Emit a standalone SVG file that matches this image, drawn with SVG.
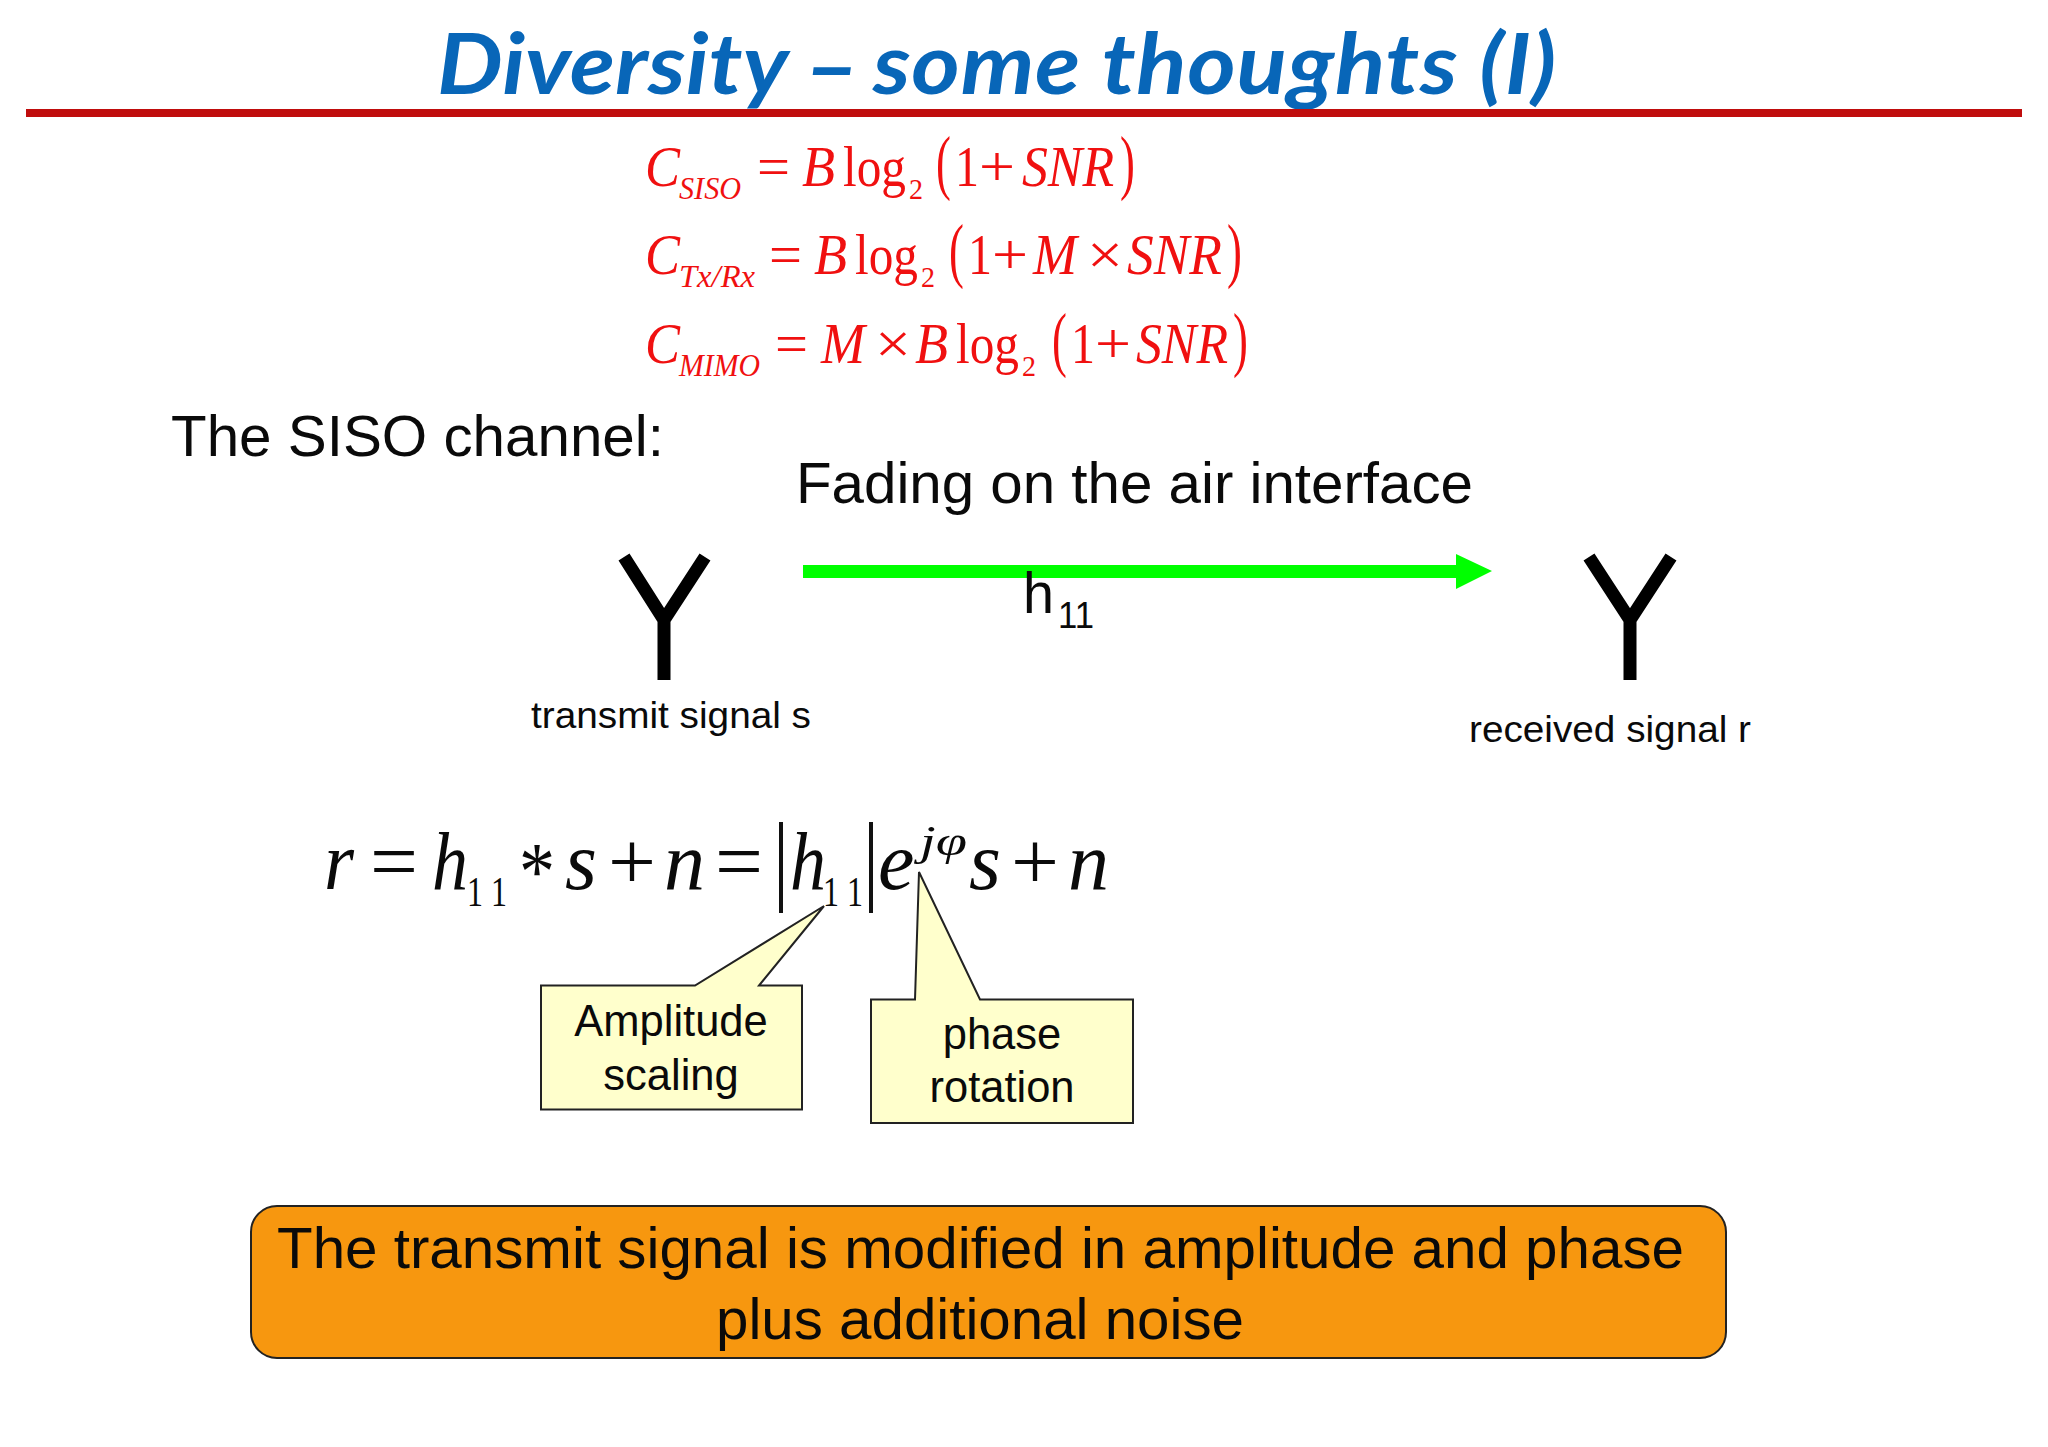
<svg xmlns="http://www.w3.org/2000/svg" width="2048" height="1447" viewBox="0 0 2048 1447">
<style>
text{font-family:"Liberation Sans",Arial,sans-serif;fill:#0a0a0a}
.t{font-family:"Lato","Liberation Sans",sans-serif;font-weight:700;font-style:italic;font-size:84px;fill:#0866b8}
.e text{font-family:"Liberation Serif","Times New Roman",serif;fill:#f01010}
.m text{font-family:"Liberation Serif","Times New Roman",serif;fill:#0a0a0a}
.i{font-style:italic}
.b{font-size:58px}
.s{font-size:31px}
.n{font-size:29px}
.p{font-size:72px}
.mb{font-size:82px}
.ms{font-size:43px}
.c{text-anchor:middle;font-size:43.500px}
.w{font-size:57px}
.call{fill:#ffffcc;stroke:#222;stroke-width:2}
.ant{fill:none;stroke:#000;stroke-width:13}
</style>
<rect width="2048" height="1447" fill="#fff"/>
<g id="title">
<text class="t" x="437" y="94" textLength="1120" lengthAdjust="spacingAndGlyphs"><tspan letter-spacing=".1">Diversity</tspan><tspan font-size="60"> </tspan><tspan font-size="90" dy="4">–</tspan><tspan font-size="50" dy="-4"> </tspan><tspan letter-spacing=".6">some thoughts (I)</tspan></text>
<rect x="26" y="109" width="1996" height="8" fill="#c00d0d"/>
</g>
<g id="capacity-formulas" class="e">
<text class="b i" x="645" y="186" textLength="35" lengthAdjust="spacingAndGlyphs">C</text>
<text class="s i" x="679" y="199" textLength="62" lengthAdjust="spacingAndGlyphs">SISO</text>
<text class="b" x="757" y="186" textLength="33" lengthAdjust="spacingAndGlyphs">=</text>
<text class="b i" x="802" y="186" textLength="33" lengthAdjust="spacingAndGlyphs">B</text>
<text class="b" x="843" y="186" textLength="63" lengthAdjust="spacingAndGlyphs">log</text>
<text class="n" x="909" y="199" textLength="14" lengthAdjust="spacingAndGlyphs">2</text>
<text class="p" transform="translate(936 186) scale(.62 1)">(</text>
<text class="b" x="955" y="186" textLength="24" lengthAdjust="spacingAndGlyphs">1</text>
<text class="b" x="979" y="186" textLength="36" lengthAdjust="spacingAndGlyphs">+</text>
<text class="b i" x="1022" y="186" textLength="92" lengthAdjust="spacingAndGlyphs">SNR</text>
<text class="p" transform="translate(1120 186) scale(.62 1)">)</text>

<text class="b i" x="645" y="274" textLength="35" lengthAdjust="spacingAndGlyphs">C</text>
<text class="s i" x="679" y="287" textLength="76" lengthAdjust="spacingAndGlyphs">Tx/Rx</text>
<text class="b" x="769" y="274" textLength="33" lengthAdjust="spacingAndGlyphs">=</text>
<text class="b i" x="814" y="274" textLength="33" lengthAdjust="spacingAndGlyphs">B</text>
<text class="b" x="855" y="274" textLength="63" lengthAdjust="spacingAndGlyphs">log</text>
<text class="n" x="921" y="287" textLength="14" lengthAdjust="spacingAndGlyphs">2</text>
<text class="p" transform="translate(949 274) scale(.62 1)">(</text>
<text class="b" x="968" y="274" textLength="24" lengthAdjust="spacingAndGlyphs">1</text>
<text class="b" x="992" y="274" textLength="36" lengthAdjust="spacingAndGlyphs">+</text>
<text class="b i" x="1033" y="274" textLength="44" lengthAdjust="spacingAndGlyphs">M</text>
<text class="b" x="1087" y="274" textLength="36" lengthAdjust="spacingAndGlyphs">×</text>
<text class="b i" x="1127" y="274" textLength="95" lengthAdjust="spacingAndGlyphs">SNR</text>
<text class="p" transform="translate(1227 274) scale(.62 1)">)</text>

<text class="b i" x="645" y="363" textLength="35" lengthAdjust="spacingAndGlyphs">C</text>
<text class="s i" x="679" y="376" textLength="81" lengthAdjust="spacingAndGlyphs">MIMO</text>
<text class="b" x="775" y="363" textLength="33" lengthAdjust="spacingAndGlyphs">=</text>
<text class="b i" x="821" y="363" textLength="44" lengthAdjust="spacingAndGlyphs">M</text>
<text class="b" x="875" y="363" textLength="36" lengthAdjust="spacingAndGlyphs">×</text>
<text class="b i" x="915" y="363" textLength="33" lengthAdjust="spacingAndGlyphs">B</text>
<text class="b" x="956" y="363" textLength="63" lengthAdjust="spacingAndGlyphs">log</text>
<text class="n" x="1022" y="376" textLength="14" lengthAdjust="spacingAndGlyphs">2</text>
<text class="p" transform="translate(1052 363) scale(.62 1)">(</text>
<text class="b" x="1071" y="363" textLength="24" lengthAdjust="spacingAndGlyphs">1</text>
<text class="b" x="1095" y="363" textLength="36" lengthAdjust="spacingAndGlyphs">+</text>
<text class="b i" x="1136" y="363" textLength="92" lengthAdjust="spacingAndGlyphs">SNR</text>
<text class="p" transform="translate(1233 363) scale(.62 1)">)</text>
</g>
<g id="siso-heading"><text x="171" y="456" font-size="58" textLength="493" lengthAdjust="spacingAndGlyphs">The SISO channel:</text></g>
<g id="fading-label"><text x="796" y="503" font-size="57" textLength="677" lengthAdjust="spacingAndGlyphs">Fading on the air interface</text></g>
<g id="connectors">
<path d="M803 565H1456V554L1492 571 1456 589V578H803Z" fill="#00ff00"/>
</g>
<g id="h11-label">
<text x="1023" y="613" font-size="58" textLength="31" lengthAdjust="spacingAndGlyphs">h</text>
<text x="1058" y="628" font-size="36" textLength="36" lengthAdjust="spacingAndGlyphs">11</text>
</g>
<g id="tx-antenna">
<path class="ant" d="M624 557L664 620M705 557L664 620M664 612V680"/>
<text x="531" y="728" font-size="37" textLength="280" lengthAdjust="spacingAndGlyphs">transmit signal s</text>
</g>
<g id="rx-antenna">
<path class="ant" d="M1589 557L1630 620M1671 557L1630 620M1630 612V680"/>
<text x="1469" y="741.500" font-size="37" textLength="282" lengthAdjust="spacingAndGlyphs">received signal r</text>
</g>
<g id="signal-equation" class="m">
<text class="mb i" x="324" y="889" textLength="30" lengthAdjust="spacingAndGlyphs">r</text>
<text class="mb" x="370" y="889" textLength="48" lengthAdjust="spacingAndGlyphs">=</text>
<text class="mb i" x="432" y="889" textLength="36" lengthAdjust="spacingAndGlyphs">h</text>
<text class="ms" x="467" y="906" textLength="40" lengthAdjust="spacingAndGlyphs">1 1</text>
<text class="mb" x="519" y="899" textLength="36" lengthAdjust="spacingAndGlyphs">*</text>
<text class="mb i" x="565" y="889">s</text>
<text class="mb" x="608" y="889" textLength="48" lengthAdjust="spacingAndGlyphs">+</text>
<text class="mb i" x="664" y="889">n</text>
<text class="mb" x="715" y="889" textLength="48" lengthAdjust="spacingAndGlyphs">=</text>
<rect x="779" y="822" width="4" height="91" fill="#111"/>
<text class="mb i" x="790" y="889" textLength="36" lengthAdjust="spacingAndGlyphs">h</text>
<text class="ms" x="823" y="906" textLength="40" lengthAdjust="spacingAndGlyphs">1 1</text>
<rect x="869" y="822" width="4" height="91" fill="#111"/>
<text class="mb i" x="878" y="889">e</text>
<text class="ms i" x="920" y="855" textLength="47" lengthAdjust="spacingAndGlyphs">jφ</text>
<text class="mb i" x="969" y="889">s</text>
<text class="mb" x="1011" y="889" textLength="48" lengthAdjust="spacingAndGlyphs">+</text>
<text class="mb i" x="1068" y="889">n</text>
</g>
<g id="amplitude-callout">
<path class="call" d="M541 985.500H695L824 906 759 985.500H802V1109.500H541Z"/>
<text class="c" x="671" y="1036">Amplitude</text>
<text class="c" x="671" y="1090">scaling</text>
</g>
<g id="phase-callout">
<path class="call" d="M871 999.500H915L919 872 980 999.500H1133V1123H871Z"/>
<text class="c" x="1002" y="1049">phase</text>
<text class="c" x="1002" y="1102">rotation</text>
</g>
<g id="summary-box">
<rect x="251" y="1206" width="1475" height="152" rx="26" fill="#f7970f" stroke="#222" stroke-width="2"/>
<text class="w" x="277" y="1268" textLength="1407" lengthAdjust="spacingAndGlyphs">The transmit signal is modified in amplitude and phase</text>
<text class="w" x="716" y="1339" textLength="528" lengthAdjust="spacingAndGlyphs">plus additional noise</text>
</g>
</svg>
